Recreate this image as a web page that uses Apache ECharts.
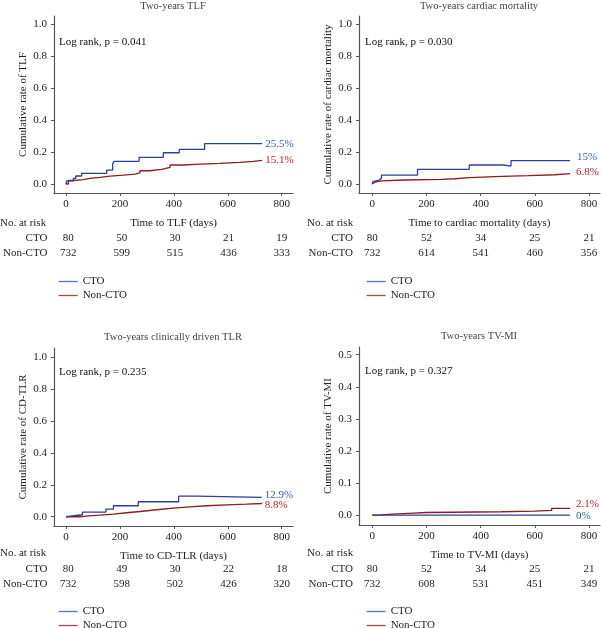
<!DOCTYPE html>
<html>
<head>
<meta charset="utf-8">
<script src="https://cdn.jsdelivr.net/npm/echarts@6/dist/echarts.min.js"></script>
<style>html,body{margin:0;padding:0;background:#fff}#c{width:601px;height:628px}</style>
</head>
<body>
<div id="c"></div>
<script>
// ---------- data ----------
const xTicks = [0, 200, 400, 600, 800];
const groups = ['CTO', 'Non-CTO'];

const titles = ['Two-years TLF', 'Two-years cardiac mortality', 'Two-years clinically driven TLR', 'Two-years TV-MI'];
const yNames = ['Cumulative rate of TLF', 'Cumulative rate of cardiac mortality', 'Cumulative rate of CD-TLR', 'Cumulative rate of TV-MI'];
const xNames = ['Time to TLF (days)', 'Time to cardiac mortality (days)', 'Time to CD-TLR (days)', 'Time to TV-MI (days)'];
const logRank = ['Log rank, p = 0.041', 'Log rank, p = 0.030', 'Log rank, p = 0.235', 'Log rank, p = 0.327'];
const endLabels = [['25.5%', '15.1%'], ['15%', '6.8%'], ['12.9%', '8.8%'], ['0%', '2.1%']];
const yTicksFull = [0, 0.2, 0.4, 0.6, 0.8, 1.0];
const yTicksHalf = [0, 0.1, 0.2, 0.3, 0.4, 0.5];

// TLF
const tlfCtoT = [0, 2.5, 27, 36, 58, 151, 173, 178, 271, 361, 420, 514, 728];
const tlfCtoV = [0, 0.019, 0.035, 0.05, 0.067, 0.0875, 0.123, 0.142, 0.167, 0.196, 0.217, 0.253, 0.253];
const tlfNonT = [0, 9, 27, 64, 89, 126, 163, 213, 256, 274, 311, 355, 386, 435, 497, 571, 645, 695, 728];
const tlfNonV = [0, 0.022, 0.027, 0.035, 0.042, 0.05, 0.056, 0.0625, 0.07, 0.083, 0.092, 0.104, 0.119, 0.125, 0.129, 0.135, 0.142, 0.148, 0.151];
// Cardiac mortality
const cmCtoT = [0, 2.5, 7, 25, 34, 167, 358, 484, 512, 730];
const cmCtoV = [0, 0.015, 0.025, 0.035, 0.056, 0.092, 0.119, 0.1125, 0.147, 0.147];
const cmNonT = [0, 5, 10, 34, 120, 256, 305, 360, 453, 576, 674, 730];
const cmNonV = [0, 0.012, 0.02, 0.025, 0.029, 0.033, 0.04, 0.046, 0.052, 0.058, 0.065, 0.068];
// CD-TLR
const tlrCtoT = [0, 2.5, 61, 148, 176, 268, 418, 485, 726];
const tlrCtoV = [0, 0.0125, 0.029, 0.048, 0.069, 0.094, 0.129, 0.122, 0.122];
const tlrNonT = [0, 52, 83, 126, 176, 225, 274, 336, 398, 460, 522, 596, 670, 726];
const tlrNonV = [0, 0.006, 0.0104, 0.017, 0.025, 0.033, 0.044, 0.054, 0.0625, 0.069, 0.075, 0.079, 0.083, 0.0875];
// TV-MI
const miCtoT = [0, 730];
const miCtoV = [0, 0];
const miNonT = [0, 28, 59, 151, 200, 478, 600, 662, 730];
const miNonV = [0, 0.002, 0.006, 0.008, 0.0103, 0.0124, 0.0144, 0.021, 0.021];

// Numbers at risk (at xTicks)
const tlfRiskCto = [80, 50, 30, 21, 19];
const tlfRiskNon = [732, 599, 515, 436, 333];
const cmRiskCto = [80, 52, 34, 25, 21];
const cmRiskNon = [732, 614, 541, 460, 356];
const tlrRiskCto = [80, 49, 30, 22, 18];
const tlrRiskNon = [732, 598, 502, 426, 320];
const miRiskCto = [80, 52, 34, 25, 21];
const miRiskNon = [732, 608, 531, 451, 349];

// ---------- layout ----------
const FONT = 'Liberation Serif';
const ctoLine = '#2b3f9e', nonLine = '#8f1b1b';
const ctoText = '#2f5fbb', nonText = '#c21d22';
const ctoLeg = '#4a78c8', nonLeg = '#b44444';
const axisCol = '#555';
const txt = '#222';

const panels = [
  {grid: {left: 54, top: 16, width: 239, height: 177}, xr: [-44.5, 842], yr: [-0.0564, 1.053], yt: yTicksFull,
   cto: [tlfCtoT, tlfCtoV], non: [tlfNonT, tlfNonV], risk: [tlfRiskCto, tlfRiskNon], riskTop: 230.5, riskMargin: 9,
   titleXY: [173, 6], lrXY: [59, 42], riskLblXY: [0, 223], legX: 53, legY: [280, 294],
   ctoOff: [0, 0], nonOff: [0, 0], ctoDist: 3, nonDist: 3},
  {grid: {left: 359, top: 16, width: 241, height: 177}, xr: [-49, 840.5], yr: [-0.0564, 1.053], yt: yTicksFull,
   cto: [cmCtoT, cmCtoV], non: [cmNonT, cmNonV], risk: [cmRiskCto, cmRiskNon], riskTop: 230.5, riskMargin: 6,
   titleXY: [479, 6], lrXY: [365, 42], riskLblXY: [307, 223], legX: 361, legY: [280, 294],
   ctoOff: [0, -3], nonOff: [0, -1], ctoDist: 7, nonDist: 6},
  {grid: {left: 54, top: 348, width: 239, height: 178}, xr: [-44.5, 842], yr: [-0.058, 1.058], yt: yTicksFull,
   cto: [tlrCtoT, tlrCtoV], non: [tlrNonT, tlrNonV], risk: [tlrRiskCto, tlrRiskNon], riskTop: 561.5, riskMargin: 9,
   titleXY: [173, 337], lrXY: [59, 372], riskLblXY: [0, 553], legX: 53, legY: [610, 624],
   ctoOff: [0, -2], nonOff: [0, 2], ctoDist: 3, nonDist: 3},
  {grid: {left: 359, top: 347, width: 241, height: 178}, xr: [-49, 840.5], yr: [-0.031, 0.524], yt: yTicksHalf,
   cto: [miCtoT, miCtoV], non: [miNonT, miNonV], risk: [miRiskCto, miRiskNon], riskTop: 561.5, riskMargin: 6,
   titleXY: [479, 336], lrXY: [365, 371], riskLblXY: [307, 553], legX: 361, legY: [610, 624],
   ctoOff: [0, 1], nonOff: [0, -4], ctoDist: 6, nonDist: 6}
];

const zip = (t, v) => t.map((x, i) => [x, v[i]]);

const option = {
  animation: false,
  backgroundColor: '#fff',
  textStyle: {fontFamily: FONT},
  grid: [], xAxis: [], yAxis: [], series: [], legend: [], graphic: []
};

panels.forEach((p, i) => {
  const g = option.grid.length;
  option.grid.push(Object.assign({containLabel: false}, p.grid));
  option.xAxis.push({
    type: 'value', gridIndex: g, min: p.xr[0], max: p.xr[1],
    axisLine: {show: true, onZero: false, lineStyle: {color: axisCol, width: 1.2}},
    axisTick: {show: true, customValues: xTicks, length: 3, lineStyle: {color: axisCol}},
    axisLabel: {customValues: xTicks, margin: 6, fontSize: 11, color: txt, fontFamily: FONT},
    splitLine: {show: false},
    name: xNames[i], nameLocation: 'middle', nameGap: 25,
    nameTextStyle: {fontSize: 11, color: txt, fontFamily: FONT}
  });
  option.yAxis.push({
    type: 'value', gridIndex: g, min: p.yr[0], max: p.yr[1],
    axisLine: {show: true, onZero: false, lineStyle: {color: axisCol, width: 1.2}},
    axisTick: {show: true, customValues: p.yt, length: 3, lineStyle: {color: axisCol}},
    axisLabel: {customValues: p.yt, margin: 7, fontSize: 11, color: txt, fontFamily: FONT,
      formatter: v => v.toFixed(1)},
    splitLine: {show: false},
    name: yNames[i], nameLocation: 'middle', nameGap: 25,
    nameTextStyle: {fontSize: 11, color: txt, fontFamily: FONT}
  });
  const mkSeries = (name, d, color, lblColor, lbl, off, dist) => ({
    type: 'line', name: name, xAxisIndex: g, yAxisIndex: g, step: 'end',
    data: zip(d[0], d[1]), symbol: 'none', showSymbol: false,
    lineStyle: {color: color, width: 1.3}, itemStyle: {color: color},
    endLabel: {show: true, formatter: lbl, color: lblColor, fontSize: 11, fontFamily: FONT,
      distance: dist, offset: off},
    z: name === 'CTO' ? 3 : 2
  });
  option.series.push(mkSeries('CTO', p.cto, ctoLine, ctoText, endLabels[i][0], p.ctoOff, p.ctoDist));
  option.series.push(mkSeries('Non-CTO', p.non, nonLine, nonText, endLabels[i][1], p.nonOff, p.nonDist));

  // risk table grid
  const r = option.grid.length;
  option.grid.push({left: p.grid.left, width: p.grid.width, top: p.riskTop, height: 30, containLabel: false});
  option.xAxis.push({type: 'value', gridIndex: r, min: p.xr[0], max: p.xr[1], show: false});
  option.yAxis.push({
    type: 'category', gridIndex: r, data: groups, inverse: true,
    axisLine: {show: false}, axisTick: {show: false}, splitLine: {show: false},
    axisLabel: {margin: p.riskMargin, fontSize: 11, color: txt, fontFamily: FONT}
  });
  groups.forEach((gname, k) => {
    option.series.push({
      type: 'scatter', name: 'risk-' + gname, xAxisIndex: r, yAxisIndex: r,
      symbolSize: 1, silent: true, itemStyle: {color: 'rgba(0,0,0,0)'},
      data: xTicks.map((x, j) => [x, gname, p.risk[k][j]]),
      label: {show: true, position: 'inside', formatter: o => String(o.data[2]),
        fontSize: 11, color: txt, fontFamily: FONT, textBorderWidth: 0, opacity: 1}
    });
  });

  // legends: one per item so rows are placed exactly
  [['CTO', ctoLeg], ['Non-CTO', nonLeg]].forEach((it, k) => {
    option.legend.push({
      left: p.legX, top: p.legY[k] - 9, orient: 'vertical', itemWidth: 19, itemHeight: 12, itemGap: 0,
      selectedMode: false,
      textStyle: {fontSize: 11, color: txt, fontFamily: FONT},
      itemStyle: {color: 'rgba(0,0,0,0)', opacity: 0, borderWidth: 0},
      data: [{name: it[0], lineStyle: {color: it[1], width: 1.3, opacity: 1},
              itemStyle: {color: 'rgba(0,0,0,0)', opacity: 0, borderWidth: 0}}]
    });
  });

  option.graphic.push(
    {type: 'text', x: p.titleXY[0], y: p.titleXY[1],
     style: {text: titles[i], fontSize: 10.5, fontFamily: FONT, fill: '#444', align: 'center', verticalAlign: 'middle'}},
    {type: 'text', x: p.lrXY[0], y: p.lrXY[1],
     style: {text: logRank[i], fontSize: 11, fontFamily: FONT, fill: '#111', align: 'left', verticalAlign: 'middle'}},
    {type: 'text', x: p.riskLblXY[0], y: p.riskLblXY[1],
     style: {text: 'No. at risk', fontSize: 11, fontFamily: FONT, fill: txt, align: 'left', verticalAlign: 'middle'}}
  );
});

const chart = echarts.init(document.getElementById('c'), null, {renderer: 'canvas'});
chart.setOption(option);
</script>
</body>
</html>
